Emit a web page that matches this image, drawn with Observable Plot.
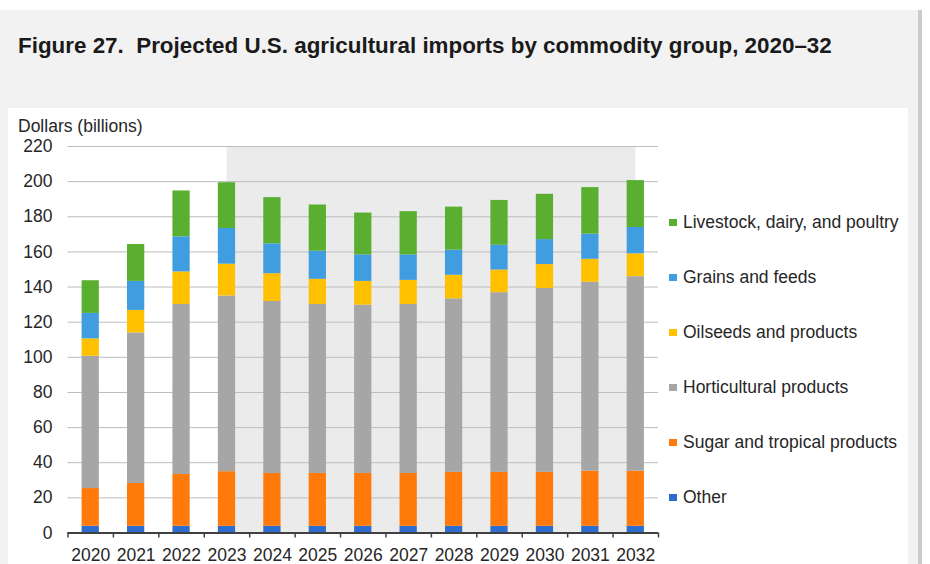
<!DOCTYPE html>
<html>
<head>
<meta charset="utf-8">
<script src="https://cdn.jsdelivr.net/npm/d3@7"></script>
<script src="https://cdn.jsdelivr.net/npm/@observablehq/plot@0.6"></script>
<style>
  html, body { margin: 0; padding: 0; background: #ffffff; }
  body { width: 930px; height: 564px; position: relative; overflow: hidden;
         font-family: "Liberation Sans", Arial, sans-serif; color: #262626; }
  #frame { position: absolute; left: 0; top: 10px; width: 918px; height: 554px;
           background: #f2f2f2; border-right: 4px solid #cccccc; }
  #panel { position: absolute; left: 8px; top: 108px; width: 900px; height: 456px; background: #ffffff; }
  #title { position: absolute; left: 18px; top: 33px; font-weight: bold; font-size: 22.4px;
           white-space: nowrap; color: #1a1a1a; }
  #ylabel { position: absolute; left: 18px; top: 116px; font-size: 17.5px; white-space: nowrap; }
  #chart { position: absolute; left: 8px; top: 108px; }
  .leg { position: absolute; left: 669px; font-size: 17.5px; white-space: nowrap; line-height: 20px; }
  .leg span.sw { display: inline-block; width: 8px; height: 7px; margin-right: 6px; vertical-align: 2px; }
</style>
</head>
<body>
<div id="frame"></div>
<div id="panel"></div>
<div id="title">Figure 27.&nbsp; Projected U.S. agricultural imports by commodity group, 2020–32</div>
<div id="ylabel">Dollars (billions)</div>
<div id="chart"></div>
<div id="legend"></div>
<script>
// ---- data (billions of dollars) ----
const years = [2020, 2021, 2022, 2023, 2024, 2025, 2026, 2027, 2028, 2029, 2030, 2031, 2032];
const other         = [3.8, 3.8, 3.8, 3.8, 3.8, 3.8, 3.8, 3.8, 3.8, 3.8, 3.8, 3.8, 3.8];
const sugarTropical = [21.5, 24.4, 29.5, 31.1, 30.1, 30.1, 30.1, 30.1, 30.7, 30.7, 30.7, 31.4, 31.4];
const horticultural = [75.3, 85.7, 96.8, 100.0, 97.9, 96.2, 95.8, 96.2, 98.8, 102.3, 104.7, 107.5, 110.7];
const oilseeds      = [9.9, 12.8, 18.5, 18.1, 15.8, 14.3, 13.5, 13.7, 13.4, 12.9, 13.6, 13.1, 13.0];
const grainsFeeds   = [14.5, 16.5, 20.0, 20.3, 17.0, 16.0, 15.1, 14.5, 14.3, 14.1, 14.2, 14.3, 15.0];
const livestock     = [18.6, 21.0, 26.1, 26.1, 26.3, 26.3, 23.8, 24.6, 24.5, 25.5, 25.8, 26.5, 26.7];

const seriesNames = ["Other", "Sugar and tropical products", "Horticultural products",
                     "Oilseeds and products", "Grains and feeds", "Livestock, dairy, and poultry"];
const seriesValues = [other, sugarTropical, horticultural, oilseeds, grainsFeeds, livestock];
const seriesColors = ["#2e6dd0", "#ff7a0a", "#a6a6a6", "#ffc000", "#3f9de0", "#5aaf30"];
const yTicks = [0, 20, 40, 60, 80, 100, 120, 140, 160, 180, 200, 220];
const projectionYears = [2023, 2032];

// ---- stacking ----
const stacked = [];
years.forEach((year, i) => {
  let base = 0;
  seriesNames.forEach((name, s) => {
    const v = seriesValues[s][i];
    stacked.push({ year, series: name, y1: base, y2: base + v });
    base += v;
  });
});
const boundaries = years.map(y => y - 0.5).concat([years[years.length - 1] + 0.5]);
const halfBar = 0.19;

const chart = Plot.plot({
  width: 900,
  height: 456,
  marginTop: 38,
  marginBottom: 31.5,
  marginLeft: 59.5,
  marginRight: 250,
  style: { fontFamily: "'Liberation Sans', Arial, sans-serif", fontSize: "17.5px", color: "#262626", background: "transparent", overflow: "visible" },
  x: { domain: [boundaries[0], boundaries[boundaries.length - 1]] },
  y: { domain: [0, d3.max(yTicks)] },
  color: { domain: seriesNames, range: seriesColors },
  marks: [
    Plot.rect([projectionYears], { x1: d => d[0], x2: d => d[1], y1: 0, y2: d3.max(yTicks), fill: "#ebebeb" }),
    Plot.gridY(yTicks.filter(t => t > 0), { stroke: "#bdbdbd", strokeOpacity: 1, strokeWidth: 1 }),
    Plot.rect(stacked, { x1: d => d.year - halfBar, x2: d => d.year + halfBar, y1: "y1", y2: "y2", fill: "series" }),
    Plot.axisY(yTicks, { tickSize: 0, tickPadding: 15.5, label: null, fontSize: 17.5 }),
    Plot.ruleY([0], { stroke: "#404040", strokeWidth: 2 }),
    Plot.axisX(boundaries, { tickSize: 5, tickFormat: () => "", label: null, stroke: "#404040", strokeWidth: 1.5 }),
    Plot.axisX(years, { tickSize: 0, tickPadding: 16, tickFormat: d => String(d), label: null, fontSize: 17.5 })
  ]
});
document.getElementById("chart").appendChild(chart);

// ---- legend (top to bottom = top of stack to bottom) ----
const legend = document.getElementById("legend");
const legendOrder = seriesNames.slice().reverse();
legendOrder.forEach((name, i) => {
  const idx = seriesNames.indexOf(name);
  const div = document.createElement("div");
  div.className = "leg";
  div.style.top = (222 + i * 55 - 10) + "px";
  div.innerHTML = `<span class="sw" style="background:${seriesColors[idx]}"></span>${name}`;
  legend.appendChild(div);
});
</script>
</body>
</html>
